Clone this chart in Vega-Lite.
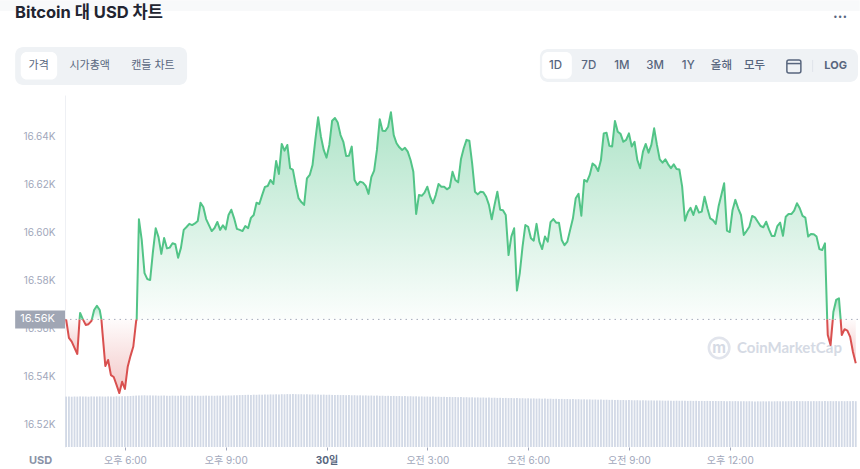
{
  "$schema": "https://vega.github.io/schema/vega-lite/v6.json",
  "description": "Bitcoin to USD price chart, one day, with volume bars.",
  "width": 793,
  "height": 352,
  "autosize": "none",
  "padding": {"left": 65, "top": 95, "right": 2, "bottom": 22},
  "background": "white",
  "title": {
    "text": "Bitcoin 대 USD 차트",
    "anchor": "start",
    "frame": "group",
    "dx": -50,
    "offset": 0,
    "dy": 21,
    "font": "Inter, 'Noto Sans CJK KR'",
    "fontSize": 16.5,
    "fontWeight": 700,
    "color": "#222531"
  },
  "config": {"view": {"stroke": null}},
  "datasets": {
    "price": [
      {"time":"2022-11-29T16:15Z","price":16564,"vol":50.4,"seg":1,"side":"down"},
      {"time":"2022-11-29T16:20Z","price":16556.3,"vol":50.5,"seg":1,"side":"down"},
      {"time":"2022-11-29T16:25Z","price":16554.7,"vol":50.3,"seg":1,"side":"down"},
      {"time":"2022-11-29T16:30Z","price":16552.1,"vol":50.5,"seg":1,"side":"down"},
      {"time":"2022-11-29T16:35Z","price":16549.6,"vol":50.4,"seg":1,"side":"down"},
      {"time":"2022-11-29T16:39Z","price":16564,"seg":1,"side":"down"},
      {"time":"2022-11-29T16:39Z","price":16564,"seg":2,"side":"up"},
      {"time":"2022-11-29T16:40Z","price":16566.7,"vol":50.6,"seg":2,"side":"up"},
      {"time":"2022-11-29T16:45Z","price":16564,"vol":50.4,"seg":2,"side":"up"},
      {"time":"2022-11-29T16:45Z","price":16564,"seg":3,"side":"down"},
      {"time":"2022-11-29T16:50Z","price":16561.7,"vol":50.5,"seg":3,"side":"down"},
      {"time":"2022-11-29T16:55Z","price":16562,"vol":50.3,"seg":3,"side":"down"},
      {"time":"2022-11-29T17:00Z","price":16563.3,"vol":50.6,"seg":3,"side":"down"},
      {"time":"2022-11-29T17:01Z","price":16564,"seg":3,"side":"down"},
      {"time":"2022-11-29T17:01Z","price":16564,"seg":4,"side":"up"},
      {"time":"2022-11-29T17:05Z","price":16567.9,"vol":50.5,"seg":4,"side":"up"},
      {"time":"2022-11-29T17:10Z","price":16569.7,"vol":50.4,"seg":4,"side":"up"},
      {"time":"2022-11-29T17:15Z","price":16567.9,"vol":50.6,"seg":4,"side":"up"},
      {"time":"2022-11-29T17:18Z","price":16564,"seg":4,"side":"up"},
      {"time":"2022-11-29T17:18Z","price":16564,"seg":5,"side":"down"},
      {"time":"2022-11-29T17:20Z","price":16558.3,"vol":50.5,"seg":5,"side":"down"},
      {"time":"2022-11-29T17:25Z","price":16544.6,"vol":50.4,"seg":5,"side":"down"},
      {"time":"2022-11-29T17:30Z","price":16547.1,"vol":50.6,"seg":5,"side":"down"},
      {"time":"2022-11-29T17:35Z","price":16540.8,"vol":50.5,"seg":5,"side":"down"},
      {"time":"2022-11-29T17:40Z","price":16540,"vol":50.4,"seg":5,"side":"down"},
      {"time":"2022-11-29T17:45Z","price":16536.7,"vol":50.7,"seg":5,"side":"down"},
      {"time":"2022-11-29T17:50Z","price":16533.3,"vol":50.6,"seg":5,"side":"down"},
      {"time":"2022-11-29T17:55Z","price":16538,"vol":50.8,"seg":5,"side":"down"},
      {"time":"2022-11-29T18:00Z","price":16535,"vol":50.7,"seg":5,"side":"down"},
      {"time":"2022-11-29T18:05Z","price":16544.3,"vol":50.9,"seg":5,"side":"down"},
      {"time":"2022-11-29T18:10Z","price":16548.8,"vol":51,"seg":5,"side":"down"},
      {"time":"2022-11-29T18:15Z","price":16552.7,"vol":51.2,"seg":5,"side":"down"},
      {"time":"2022-11-29T18:20Z","price":16563.3,"vol":51.4,"seg":5,"side":"down"},
      {"time":"2022-11-29T18:21Z","price":16564,"seg":5,"side":"down"},
      {"time":"2022-11-29T18:21Z","price":16564,"seg":6,"side":"up"},
      {"time":"2022-11-29T18:25Z","price":16605.7,"vol":51.5,"seg":6,"side":"up"},
      {"time":"2022-11-29T18:30Z","price":16597.1,"vol":51.6,"seg":6,"side":"up"},
      {"time":"2022-11-29T18:35Z","price":16583.3,"vol":51.7,"seg":6,"side":"up"},
      {"time":"2022-11-29T18:40Z","price":16580.8,"vol":51.5,"seg":6,"side":"up"},
      {"time":"2022-11-29T18:45Z","price":16580.4,"vol":51.6,"seg":6,"side":"up"},
      {"time":"2022-11-29T18:50Z","price":16592.1,"vol":51.4,"seg":6,"side":"up"},
      {"time":"2022-11-29T18:55Z","price":16602,"vol":51.5,"seg":6,"side":"up"},
      {"time":"2022-11-29T19:00Z","price":16598.3,"vol":51.3,"seg":6,"side":"up"},
      {"time":"2022-11-29T19:05Z","price":16591.3,"vol":51.4,"seg":6,"side":"up"},
      {"time":"2022-11-29T19:10Z","price":16597.9,"vol":51.5,"seg":6,"side":"up"},
      {"time":"2022-11-29T19:15Z","price":16593.6,"vol":51.3,"seg":6,"side":"up"},
      {"time":"2022-11-29T19:20Z","price":16593.9,"vol":51.2,"seg":6,"side":"up"},
      {"time":"2022-11-29T19:25Z","price":16595.7,"vol":51.4,"seg":6,"side":"up"},
      {"time":"2022-11-29T19:30Z","price":16595.3,"vol":51.3,"seg":6,"side":"up"},
      {"time":"2022-11-29T19:35Z","price":16589.7,"vol":51.2,"seg":6,"side":"up"},
      {"time":"2022-11-29T19:40Z","price":16593.8,"vol":51.4,"seg":6,"side":"up"},
      {"time":"2022-11-29T19:45Z","price":16601.3,"vol":51.3,"seg":6,"side":"up"},
      {"time":"2022-11-29T19:50Z","price":16602.5,"vol":51.2,"seg":6,"side":"up"},
      {"time":"2022-11-29T19:55Z","price":16603.8,"vol":51.3,"seg":6,"side":"up"},
      {"time":"2022-11-29T20:00Z","price":16603.3,"vol":51.4,"seg":6,"side":"up"},
      {"time":"2022-11-29T20:05Z","price":16604,"vol":51.2,"seg":6,"side":"up"},
      {"time":"2022-11-29T20:10Z","price":16605,"vol":51.3,"seg":6,"side":"up"},
      {"time":"2022-11-29T20:15Z","price":16612.6,"vol":51.2,"seg":6,"side":"up"},
      {"time":"2022-11-29T20:20Z","price":16610.8,"vol":51.3,"seg":6,"side":"up"},
      {"time":"2022-11-29T20:25Z","price":16605.8,"vol":51.4,"seg":6,"side":"up"},
      {"time":"2022-11-29T20:30Z","price":16603.3,"vol":51.2,"seg":6,"side":"up"},
      {"time":"2022-11-29T20:35Z","price":16600.8,"vol":51.3,"seg":6,"side":"up"},
      {"time":"2022-11-29T20:40Z","price":16602.1,"vol":51.2,"seg":6,"side":"up"},
      {"time":"2022-11-29T20:45Z","price":16604.6,"vol":51.4,"seg":6,"side":"up"},
      {"time":"2022-11-29T20:50Z","price":16601.3,"vol":51.3,"seg":6,"side":"up"},
      {"time":"2022-11-29T20:55Z","price":16603.2,"vol":51.5,"seg":6,"side":"up"},
      {"time":"2022-11-29T21:00Z","price":16601.5,"vol":51.4,"seg":6,"side":"up"},
      {"time":"2022-11-29T21:05Z","price":16607.5,"vol":51.6,"seg":6,"side":"up"},
      {"time":"2022-11-29T21:10Z","price":16609.7,"vol":51.5,"seg":6,"side":"up"},
      {"time":"2022-11-29T21:15Z","price":16606.1,"vol":51.7,"seg":6,"side":"up"},
      {"time":"2022-11-29T21:20Z","price":16601.7,"vol":51.8,"seg":6,"side":"up"},
      {"time":"2022-11-29T21:25Z","price":16601.3,"vol":51.9,"seg":6,"side":"up"},
      {"time":"2022-11-29T21:30Z","price":16600.8,"vol":52,"seg":6,"side":"up"},
      {"time":"2022-11-29T21:35Z","price":16602.9,"vol":52.1,"seg":6,"side":"up"},
      {"time":"2022-11-29T21:40Z","price":16602,"vol":52.2,"seg":6,"side":"up"},
      {"time":"2022-11-29T21:45Z","price":16606.3,"vol":52.1,"seg":6,"side":"up"},
      {"time":"2022-11-29T21:50Z","price":16607.5,"vol":52.3,"seg":6,"side":"up"},
      {"time":"2022-11-29T21:55Z","price":16612.6,"vol":52.2,"seg":6,"side":"up"},
      {"time":"2022-11-29T22:00Z","price":16612.1,"vol":52.4,"seg":6,"side":"up"},
      {"time":"2022-11-29T22:05Z","price":16615.8,"vol":52.3,"seg":6,"side":"up"},
      {"time":"2022-11-29T22:10Z","price":16619.2,"vol":52.5,"seg":6,"side":"up"},
      {"time":"2022-11-29T22:15Z","price":16619.6,"vol":52.4,"seg":6,"side":"up"},
      {"time":"2022-11-29T22:20Z","price":16622.1,"vol":52.6,"seg":6,"side":"up"},
      {"time":"2022-11-29T22:25Z","price":16620.4,"vol":52.5,"seg":6,"side":"up"},
      {"time":"2022-11-29T22:30Z","price":16630,"vol":52.7,"seg":6,"side":"up"},
      {"time":"2022-11-29T22:35Z","price":16624.6,"vol":52.6,"seg":6,"side":"up"},
      {"time":"2022-11-29T22:40Z","price":16637.1,"vol":52.8,"seg":6,"side":"up"},
      {"time":"2022-11-29T22:45Z","price":16634.3,"vol":52.7,"seg":6,"side":"up"},
      {"time":"2022-11-29T22:50Z","price":16636.7,"vol":52.9,"seg":6,"side":"up"},
      {"time":"2022-11-29T22:55Z","price":16627,"vol":52.8,"seg":6,"side":"up"},
      {"time":"2022-11-29T23:00Z","price":16626.3,"vol":52.9,"seg":6,"side":"up"},
      {"time":"2022-11-29T23:05Z","price":16620,"vol":52.8,"seg":6,"side":"up"},
      {"time":"2022-11-29T23:10Z","price":16614.5,"vol":52.7,"seg":6,"side":"up"},
      {"time":"2022-11-29T23:15Z","price":16612.9,"vol":52.8,"seg":6,"side":"up"},
      {"time":"2022-11-29T23:20Z","price":16611.7,"vol":52.6,"seg":6,"side":"up"},
      {"time":"2022-11-29T23:25Z","price":16622.8,"vol":52.7,"seg":6,"side":"up"},
      {"time":"2022-11-29T23:30Z","price":16624.2,"vol":52.5,"seg":6,"side":"up"},
      {"time":"2022-11-29T23:35Z","price":16628.3,"vol":52.6,"seg":6,"side":"up"},
      {"time":"2022-11-29T23:40Z","price":16638.8,"vol":52.4,"seg":6,"side":"up"},
      {"time":"2022-11-29T23:45Z","price":16648.2,"vol":52.5,"seg":6,"side":"up"},
      {"time":"2022-11-29T23:50Z","price":16640.1,"vol":52.3,"seg":6,"side":"up"},
      {"time":"2022-11-29T23:55Z","price":16634.6,"vol":52.4,"seg":6,"side":"up"},
      {"time":"2022-11-30T00:00Z","price":16631.4,"vol":52.2,"seg":6,"side":"up"},
      {"time":"2022-11-30T00:05Z","price":16636.7,"vol":52.3,"seg":6,"side":"up"},
      {"time":"2022-11-30T00:10Z","price":16646.8,"vol":52.1,"seg":6,"side":"up"},
      {"time":"2022-11-30T00:15Z","price":16647.9,"vol":52,"seg":6,"side":"up"},
      {"time":"2022-11-30T00:20Z","price":16646,"vol":52.1,"seg":6,"side":"up"},
      {"time":"2022-11-30T00:25Z","price":16640.8,"vol":51.9,"seg":6,"side":"up"},
      {"time":"2022-11-30T00:30Z","price":16638,"vol":52,"seg":6,"side":"up"},
      {"time":"2022-11-30T00:35Z","price":16632.1,"vol":51.8,"seg":6,"side":"up"},
      {"time":"2022-11-30T00:40Z","price":16632.2,"vol":51.9,"seg":6,"side":"up"},
      {"time":"2022-11-30T00:45Z","price":16636,"vol":51.7,"seg":6,"side":"up"},
      {"time":"2022-11-30T00:50Z","price":16622.1,"vol":51.8,"seg":6,"side":"up"},
      {"time":"2022-11-30T00:55Z","price":16620,"vol":51.6,"seg":6,"side":"up"},
      {"time":"2022-11-30T01:00Z","price":16621.4,"vol":51.7,"seg":6,"side":"up"},
      {"time":"2022-11-30T01:05Z","price":16621,"vol":51.5,"seg":6,"side":"up"},
      {"time":"2022-11-30T01:10Z","price":16619.6,"vol":51.6,"seg":6,"side":"up"},
      {"time":"2022-11-30T01:15Z","price":16616.3,"vol":51.4,"seg":6,"side":"up"},
      {"time":"2022-11-30T01:20Z","price":16623.3,"vol":51.5,"seg":6,"side":"up"},
      {"time":"2022-11-30T01:25Z","price":16626,"vol":51.3,"seg":6,"side":"up"},
      {"time":"2022-11-30T01:30Z","price":16634.6,"vol":51.4,"seg":6,"side":"up"},
      {"time":"2022-11-30T01:35Z","price":16647.4,"vol":51.2,"seg":6,"side":"up"},
      {"time":"2022-11-30T01:40Z","price":16642.6,"vol":51.3,"seg":6,"side":"up"},
      {"time":"2022-11-30T01:45Z","price":16642.5,"vol":51.1,"seg":6,"side":"up"},
      {"time":"2022-11-30T01:50Z","price":16644.3,"vol":51.2,"seg":6,"side":"up"},
      {"time":"2022-11-30T01:55Z","price":16650.3,"vol":51,"seg":6,"side":"up"},
      {"time":"2022-11-30T02:00Z","price":16640.8,"vol":51.1,"seg":6,"side":"up"},
      {"time":"2022-11-30T02:05Z","price":16637.4,"vol":50.9,"seg":6,"side":"up"},
      {"time":"2022-11-30T02:10Z","price":16635.7,"vol":51,"seg":6,"side":"up"},
      {"time":"2022-11-30T02:15Z","price":16634.6,"vol":50.8,"seg":6,"side":"up"},
      {"time":"2022-11-30T02:20Z","price":16635.5,"vol":50.9,"seg":6,"side":"up"},
      {"time":"2022-11-30T02:25Z","price":16633.9,"vol":50.7,"seg":6,"side":"up"},
      {"time":"2022-11-30T02:30Z","price":16630.4,"vol":50.8,"seg":6,"side":"up"},
      {"time":"2022-11-30T02:35Z","price":16625.5,"vol":50.6,"seg":6,"side":"up"},
      {"time":"2022-11-30T02:40Z","price":16607.9,"vol":50.7,"seg":6,"side":"up"},
      {"time":"2022-11-30T02:45Z","price":16615.8,"vol":50.5,"seg":6,"side":"up"},
      {"time":"2022-11-30T02:50Z","price":16615.5,"vol":50.6,"seg":6,"side":"up"},
      {"time":"2022-11-30T02:55Z","price":16616.8,"vol":50.4,"seg":6,"side":"up"},
      {"time":"2022-11-30T03:00Z","price":16619.3,"vol":50.5,"seg":6,"side":"up"},
      {"time":"2022-11-30T03:05Z","price":16615.1,"vol":50.3,"seg":6,"side":"up"},
      {"time":"2022-11-30T03:10Z","price":16612.4,"vol":50.4,"seg":6,"side":"up"},
      {"time":"2022-11-30T03:15Z","price":16615.8,"vol":50.2,"seg":6,"side":"up"},
      {"time":"2022-11-30T03:20Z","price":16620.4,"vol":50.3,"seg":6,"side":"up"},
      {"time":"2022-11-30T03:25Z","price":16619.3,"vol":50.1,"seg":6,"side":"up"},
      {"time":"2022-11-30T03:30Z","price":16619.3,"vol":50.2,"seg":6,"side":"up"},
      {"time":"2022-11-30T03:35Z","price":16618.2,"vol":50,"seg":6,"side":"up"},
      {"time":"2022-11-30T03:40Z","price":16619,"vol":50.1,"seg":6,"side":"up"},
      {"time":"2022-11-30T03:45Z","price":16625.5,"vol":49.9,"seg":6,"side":"up"},
      {"time":"2022-11-30T03:50Z","price":16622.1,"vol":50,"seg":6,"side":"up"},
      {"time":"2022-11-30T03:55Z","price":16621.1,"vol":49.8,"seg":6,"side":"up"},
      {"time":"2022-11-30T04:00Z","price":16630.7,"vol":49.9,"seg":6,"side":"up"},
      {"time":"2022-11-30T04:05Z","price":16635.3,"vol":49.7,"seg":6,"side":"up"},
      {"time":"2022-11-30T04:10Z","price":16638.8,"vol":49.8,"seg":6,"side":"up"},
      {"time":"2022-11-30T04:15Z","price":16638.5,"vol":49.6,"seg":6,"side":"up"},
      {"time":"2022-11-30T04:20Z","price":16629,"vol":49.7,"seg":6,"side":"up"},
      {"time":"2022-11-30T04:25Z","price":16617.2,"vol":49.5,"seg":6,"side":"up"},
      {"time":"2022-11-30T04:30Z","price":16616.1,"vol":49.6,"seg":6,"side":"up"},
      {"time":"2022-11-30T04:35Z","price":16617.2,"vol":49.4,"seg":6,"side":"up"},
      {"time":"2022-11-30T04:40Z","price":16617,"vol":49.5,"seg":6,"side":"up"},
      {"time":"2022-11-30T04:45Z","price":16615.1,"vol":49.3,"seg":6,"side":"up"},
      {"time":"2022-11-30T04:50Z","price":16611.7,"vol":49.4,"seg":6,"side":"up"},
      {"time":"2022-11-30T04:55Z","price":16605.7,"vol":49.2,"seg":6,"side":"up"},
      {"time":"2022-11-30T05:00Z","price":16611.7,"vol":49.3,"seg":6,"side":"up"},
      {"time":"2022-11-30T05:05Z","price":16617.2,"vol":49.1,"seg":6,"side":"up"},
      {"time":"2022-11-30T05:10Z","price":16609.7,"vol":49.2,"seg":6,"side":"up"},
      {"time":"2022-11-30T05:15Z","price":16609.5,"vol":49,"seg":6,"side":"up"},
      {"time":"2022-11-30T05:20Z","price":16607.5,"vol":49.1,"seg":6,"side":"up"},
      {"time":"2022-11-30T05:25Z","price":16590.8,"vol":48.9,"seg":6,"side":"up"},
      {"time":"2022-11-30T05:30Z","price":16598.5,"vol":49,"seg":6,"side":"up"},
      {"time":"2022-11-30T05:35Z","price":16602,"vol":48.8,"seg":6,"side":"up"},
      {"time":"2022-11-30T05:40Z","price":16576,"vol":48.9,"seg":6,"side":"up"},
      {"time":"2022-11-30T05:45Z","price":16583.2,"vol":48.7,"seg":6,"side":"up"},
      {"time":"2022-11-30T05:50Z","price":16594.3,"vol":48.8,"seg":6,"side":"up"},
      {"time":"2022-11-30T05:55Z","price":16603.3,"vol":48.6,"seg":6,"side":"up"},
      {"time":"2022-11-30T06:00Z","price":16602.6,"vol":48.7,"seg":6,"side":"up"},
      {"time":"2022-11-30T06:05Z","price":16597.8,"vol":48.5,"seg":6,"side":"up"},
      {"time":"2022-11-30T06:10Z","price":16596.8,"vol":48.6,"seg":6,"side":"up"},
      {"time":"2022-11-30T06:15Z","price":16603.8,"vol":48.4,"seg":6,"side":"up"},
      {"time":"2022-11-30T06:20Z","price":16596.4,"vol":48.5,"seg":6,"side":"up"},
      {"time":"2022-11-30T06:25Z","price":16593.3,"vol":48.3,"seg":6,"side":"up"},
      {"time":"2022-11-30T06:30Z","price":16598.5,"vol":48.4,"seg":6,"side":"up"},
      {"time":"2022-11-30T06:35Z","price":16596.4,"vol":48.2,"seg":6,"side":"up"},
      {"time":"2022-11-30T06:40Z","price":16604.5,"vol":48.3,"seg":6,"side":"up"},
      {"time":"2022-11-30T06:45Z","price":16605.8,"vol":48.1,"seg":6,"side":"up"},
      {"time":"2022-11-30T06:50Z","price":16604.3,"vol":48.2,"seg":6,"side":"up"},
      {"time":"2022-11-30T06:55Z","price":16604.3,"vol":48,"seg":6,"side":"up"},
      {"time":"2022-11-30T07:00Z","price":16597.1,"vol":48.1,"seg":6,"side":"up"},
      {"time":"2022-11-30T07:05Z","price":16594.9,"vol":47.9,"seg":6,"side":"up"},
      {"time":"2022-11-30T07:10Z","price":16596.4,"vol":48,"seg":6,"side":"up"},
      {"time":"2022-11-30T07:15Z","price":16601.3,"vol":47.8,"seg":6,"side":"up"},
      {"time":"2022-11-30T07:20Z","price":16606.1,"vol":47.9,"seg":6,"side":"up"},
      {"time":"2022-11-30T07:25Z","price":16614.5,"vol":47.7,"seg":6,"side":"up"},
      {"time":"2022-11-30T07:30Z","price":16616.3,"vol":47.8,"seg":6,"side":"up"},
      {"time":"2022-11-30T07:35Z","price":16607.2,"vol":47.6,"seg":6,"side":"up"},
      {"time":"2022-11-30T07:40Z","price":16622.1,"vol":47.7,"seg":6,"side":"up"},
      {"time":"2022-11-30T07:45Z","price":16621.4,"vol":47.5,"seg":6,"side":"up"},
      {"time":"2022-11-30T07:50Z","price":16624.2,"vol":47.6,"seg":6,"side":"up"},
      {"time":"2022-11-30T07:55Z","price":16629,"vol":47.4,"seg":6,"side":"up"},
      {"time":"2022-11-30T08:00Z","price":16628,"vol":47.5,"seg":6,"side":"up"},
      {"time":"2022-11-30T08:05Z","price":16625.8,"vol":47.3,"seg":6,"side":"up"},
      {"time":"2022-11-30T08:10Z","price":16630.4,"vol":47.4,"seg":6,"side":"up"},
      {"time":"2022-11-30T08:15Z","price":16641.5,"vol":47.2,"seg":6,"side":"up"},
      {"time":"2022-11-30T08:20Z","price":16641.8,"vol":47.3,"seg":6,"side":"up"},
      {"time":"2022-11-30T08:25Z","price":16636.3,"vol":47.1,"seg":6,"side":"up"},
      {"time":"2022-11-30T08:30Z","price":16636,"vol":47.2,"seg":6,"side":"up"},
      {"time":"2022-11-30T08:35Z","price":16646.7,"vol":47,"seg":6,"side":"up"},
      {"time":"2022-11-30T08:40Z","price":16642.2,"vol":47.1,"seg":6,"side":"up"},
      {"time":"2022-11-30T08:45Z","price":16641.3,"vol":46.9,"seg":6,"side":"up"},
      {"time":"2022-11-30T08:50Z","price":16638,"vol":47,"seg":6,"side":"up"},
      {"time":"2022-11-30T08:55Z","price":16638.8,"vol":46.8,"seg":6,"side":"up"},
      {"time":"2022-11-30T09:00Z","price":16641.5,"vol":46.9,"seg":6,"side":"up"},
      {"time":"2022-11-30T09:05Z","price":16636,"vol":46.8,"seg":6,"side":"up"},
      {"time":"2022-11-30T09:10Z","price":16638,"vol":46.7,"seg":6,"side":"up"},
      {"time":"2022-11-30T09:15Z","price":16630.4,"vol":46.8,"seg":6,"side":"up"},
      {"time":"2022-11-30T09:20Z","price":16627,"vol":46.6,"seg":6,"side":"up"},
      {"time":"2022-11-30T09:25Z","price":16633.9,"vol":46.7,"seg":6,"side":"up"},
      {"time":"2022-11-30T09:30Z","price":16637.1,"vol":46.6,"seg":6,"side":"up"},
      {"time":"2022-11-30T09:35Z","price":16633.5,"vol":46.5,"seg":6,"side":"up"},
      {"time":"2022-11-30T09:40Z","price":16636.7,"vol":46.6,"seg":6,"side":"up"},
      {"time":"2022-11-30T09:45Z","price":16643.6,"vol":46.5,"seg":6,"side":"up"},
      {"time":"2022-11-30T09:50Z","price":16636.7,"vol":46.4,"seg":6,"side":"up"},
      {"time":"2022-11-30T09:55Z","price":16630.7,"vol":46.5,"seg":6,"side":"up"},
      {"time":"2022-11-30T10:00Z","price":16629.3,"vol":46.4,"seg":6,"side":"up"},
      {"time":"2022-11-30T10:05Z","price":16630.7,"vol":46.3,"seg":6,"side":"up"},
      {"time":"2022-11-30T10:10Z","price":16628.6,"vol":46.4,"seg":6,"side":"up"},
      {"time":"2022-11-30T10:15Z","price":16627,"vol":46.3,"seg":6,"side":"up"},
      {"time":"2022-11-30T10:20Z","price":16628.6,"vol":46.2,"seg":6,"side":"up"},
      {"time":"2022-11-30T10:25Z","price":16626.7,"vol":46.3,"seg":6,"side":"up"},
      {"time":"2022-11-30T10:30Z","price":16626.5,"vol":46.2,"seg":6,"side":"up"},
      {"time":"2022-11-30T10:35Z","price":16619.3,"vol":46.3,"seg":6,"side":"up"},
      {"time":"2022-11-30T10:40Z","price":16605.1,"vol":46.2,"seg":6,"side":"up"},
      {"time":"2022-11-30T10:45Z","price":16608.6,"vol":46.1,"seg":6,"side":"up"},
      {"time":"2022-11-30T10:50Z","price":16610.5,"vol":46.2,"seg":6,"side":"up"},
      {"time":"2022-11-30T10:55Z","price":16607.5,"vol":46.1,"seg":6,"side":"up"},
      {"time":"2022-11-30T11:00Z","price":16611.3,"vol":46.2,"seg":6,"side":"up"},
      {"time":"2022-11-30T11:05Z","price":16608.5,"vol":46,"seg":6,"side":"up"},
      {"time":"2022-11-30T11:10Z","price":16608.9,"vol":46.1,"seg":6,"side":"up"},
      {"time":"2022-11-30T11:15Z","price":16615.1,"vol":46,"seg":6,"side":"up"},
      {"time":"2022-11-30T11:20Z","price":16610.3,"vol":46.1,"seg":6,"side":"up"},
      {"time":"2022-11-30T11:25Z","price":16606.1,"vol":46,"seg":6,"side":"up"},
      {"time":"2022-11-30T11:30Z","price":16605.4,"vol":45.9,"seg":6,"side":"up"},
      {"time":"2022-11-30T11:35Z","price":16603.8,"vol":46,"seg":6,"side":"up"},
      {"time":"2022-11-30T11:40Z","price":16611,"vol":45.9,"seg":6,"side":"up"},
      {"time":"2022-11-30T11:45Z","price":16615.8,"vol":46,"seg":6,"side":"up"},
      {"time":"2022-11-30T11:50Z","price":16620.7,"vol":45.9,"seg":6,"side":"up"},
      {"time":"2022-11-30T11:55Z","price":16601,"vol":45.8,"seg":6,"side":"up"},
      {"time":"2022-11-30T12:00Z","price":16600.4,"vol":45.9,"seg":6,"side":"up"},
      {"time":"2022-11-30T12:05Z","price":16609.6,"vol":45.8,"seg":6,"side":"up"},
      {"time":"2022-11-30T12:10Z","price":16613.8,"vol":45.9,"seg":6,"side":"up"},
      {"time":"2022-11-30T12:15Z","price":16610.3,"vol":45.8,"seg":6,"side":"up"},
      {"time":"2022-11-30T12:20Z","price":16607.5,"vol":45.7,"seg":6,"side":"up"},
      {"time":"2022-11-30T12:25Z","price":16599.2,"vol":45.8,"seg":6,"side":"up"},
      {"time":"2022-11-30T12:30Z","price":16600.8,"vol":45.7,"seg":6,"side":"up"},
      {"time":"2022-11-30T12:35Z","price":16602.6,"vol":45.8,"seg":6,"side":"up"},
      {"time":"2022-11-30T12:40Z","price":16607.1,"vol":45.7,"seg":6,"side":"up"},
      {"time":"2022-11-30T12:45Z","price":16606.5,"vol":45.6,"seg":6,"side":"up"},
      {"time":"2022-11-30T12:50Z","price":16604.7,"vol":45.7,"seg":6,"side":"up"},
      {"time":"2022-11-30T12:55Z","price":16602.9,"vol":45.6,"seg":6,"side":"up"},
      {"time":"2022-11-30T13:00Z","price":16602.4,"vol":45.7,"seg":6,"side":"up"},
      {"time":"2022-11-30T13:05Z","price":16604.7,"vol":45.6,"seg":6,"side":"up"},
      {"time":"2022-11-30T13:10Z","price":16601.5,"vol":45.7,"seg":6,"side":"up"},
      {"time":"2022-11-30T13:15Z","price":16598.8,"vol":45.6,"seg":6,"side":"up"},
      {"time":"2022-11-30T13:20Z","price":16598.8,"vol":45.7,"seg":6,"side":"up"},
      {"time":"2022-11-30T13:25Z","price":16602.9,"vol":45.8,"seg":6,"side":"up"},
      {"time":"2022-11-30T13:30Z","price":16604.3,"vol":45.7,"seg":6,"side":"up"},
      {"time":"2022-11-30T13:35Z","price":16598.8,"vol":45.8,"seg":6,"side":"up"},
      {"time":"2022-11-30T13:40Z","price":16606.8,"vol":45.7,"seg":6,"side":"up"},
      {"time":"2022-11-30T13:45Z","price":16607.9,"vol":45.8,"seg":6,"side":"up"},
      {"time":"2022-11-30T13:50Z","price":16607.9,"vol":45.9,"seg":6,"side":"up"},
      {"time":"2022-11-30T13:55Z","price":16609.3,"vol":45.8,"seg":6,"side":"up"},
      {"time":"2022-11-30T14:00Z","price":16612.4,"vol":45.9,"seg":6,"side":"up"},
      {"time":"2022-11-30T14:05Z","price":16610.3,"vol":45.8,"seg":6,"side":"up"},
      {"time":"2022-11-30T14:10Z","price":16607.1,"vol":45.9,"seg":6,"side":"up"},
      {"time":"2022-11-30T14:15Z","price":16606.4,"vol":45.8,"seg":6,"side":"up"},
      {"time":"2022-11-30T14:20Z","price":16598.5,"vol":45.9,"seg":6,"side":"up"},
      {"time":"2022-11-30T14:25Z","price":16599.6,"vol":45.8,"seg":6,"side":"up"},
      {"time":"2022-11-30T14:30Z","price":16599.5,"vol":45.9,"seg":6,"side":"up"},
      {"time":"2022-11-30T14:35Z","price":16598.5,"vol":45.8,"seg":6,"side":"up"},
      {"time":"2022-11-30T14:40Z","price":16593.3,"vol":45.9,"seg":6,"side":"up"},
      {"time":"2022-11-30T14:45Z","price":16592.9,"vol":45.8,"seg":6,"side":"up"},
      {"time":"2022-11-30T14:50Z","price":16595.7,"vol":45.9,"seg":6,"side":"up"},
      {"time":"2022-11-30T14:54Z","price":16564,"seg":6,"side":"up"},
      {"time":"2022-11-30T14:54Z","price":16564,"seg":7,"side":"down"},
      {"time":"2022-11-30T14:55Z","price":16557.5,"vol":45.8,"seg":7,"side":"down"},
      {"time":"2022-11-30T15:00Z","price":16553.3,"vol":45.9,"seg":7,"side":"down"},
      {"time":"2022-11-30T15:04Z","price":16564,"seg":7,"side":"down"},
      {"time":"2022-11-30T15:04Z","price":16564,"seg":8,"side":"up"},
      {"time":"2022-11-30T15:05Z","price":16567.1,"vol":45.8,"seg":8,"side":"up"},
      {"time":"2022-11-30T15:10Z","price":16572.1,"vol":45.9,"seg":8,"side":"up"},
      {"time":"2022-11-30T15:15Z","price":16572.8,"vol":45.8,"seg":8,"side":"up"},
      {"time":"2022-11-30T15:18Z","price":16564,"seg":8,"side":"up"},
      {"time":"2022-11-30T15:18Z","price":16564,"seg":9,"side":"down"},
      {"time":"2022-11-30T15:20Z","price":16557.5,"vol":45.9,"seg":9,"side":"down"},
      {"time":"2022-11-30T15:25Z","price":16559.9,"vol":45.8,"seg":9,"side":"down"},
      {"time":"2022-11-30T15:30Z","price":16559.3,"vol":45.9,"seg":9,"side":"down"},
      {"time":"2022-11-30T15:35Z","price":16556.7,"vol":45.8,"seg":9,"side":"down"},
      {"time":"2022-11-30T15:40Z","price":16550.4,"vol":45.9,"seg":9,"side":"down"},
      {"time":"2022-11-30T15:45Z","price":16545.7,"vol":45.8,"seg":9,"side":"down"}
    ],
    "reference": [{"label": "16.56K", "price": 16564}]
  },
  "resolve": {"scale": {"y": "independent"}},
  "layer": [
    {
      "data": {"name": "price"},
      "transform": [{"filter": "isValid(datum.vol)"}],
      "mark": {"type": "bar", "width": 1.8, "color": "#d2d9e6"},
      "encoding": {
        "x": {
          "field": "time",
          "type": "temporal",
          "scale": {
            "type": "utc",
            "padding": 0,
            "domain": [
              {"utc": true, "year": 2022, "month": 11, "date": 29, "hours": 16, "minutes": 13},
              {"utc": true, "year": 2022, "month": 11, "date": 30, "hours": 15, "minutes": 49}
            ]
          },
          "title": "USD",
          "axis": {
            "values": [
              {"utc": true, "year": 2022, "month": 11, "date": 29, "hours": 18},
              {"utc": true, "year": 2022, "month": 11, "date": 29, "hours": 21},
              {"utc": true, "year": 2022, "month": 11, "date": 30, "hours": 0},
              {"utc": true, "year": 2022, "month": 11, "date": 30, "hours": 3},
              {"utc": true, "year": 2022, "month": 11, "date": 30, "hours": 6},
              {"utc": true, "year": 2022, "month": 11, "date": 30, "hours": 9},
              {"utc": true, "year": 2022, "month": 11, "date": 30, "hours": 12}
            ],
            "labelExpr": "utchours(datum.value)==0 ? '30일' : (utchours(datum.value)<12 ? '오전 ' : '오후 ') + (utchours(datum.value)%12==0 ? 12 : utchours(datum.value)%12) + ':00'",
            "labelFont": "Inter, 'Noto Sans CJK KR'",
            "labelFontSize": 10,
            "labelColor": {"condition": {"test": "utchours(datum.value)==0", "value": "#58667e"}, "value": "#a1a7bb"},
            "labelFontWeight": {"condition": {"test": "utchours(datum.value)==0", "value": "bold"}, "value": "normal"},
            "labelPadding": 5,
            "tickSize": 3,
            "tickColor": "#a1a7bb",
            "domain": false,
            "grid": false,
            "titleFont": "Inter, 'Noto Sans CJK KR'",
            "titleFontSize": 11,
            "titleFontWeight": "bold",
            "titleColor": "#8a92a6",
            "titleAnchor": "start",
            "titleAlign": "center",
            "titleBaseline": "middle",
            "titleX": -25,
            "titleY": 13
          }
        },
        "y": {"field": "vol", "type": "quantitative", "scale": {"domain": [0, 352], "nice": false}, "axis": null}
      }
    },
    {
      "layer": [
        {
          "data": {"values": [{"band": "top"}]},
          "mark": {"type": "rect", "color": "#f8f9fa"},
          "encoding": {
            "x": {"datum": {"utc": true, "year": 2022, "month": 11, "date": 29, "hours": 14, "minutes": 17}, "type": "temporal"},
            "x2": {"datum": {"utc": true, "year": 2022, "month": 11, "date": 30, "hours": 15, "minutes": 52}},
            "y": {"datum": 16697, "type": "quantitative"},
            "y2": {"datum": 16692.5}
          }
        },
        {
          "data": {"name": "price"},
          "transform": [{"filter": "datum.side=='up'"}],
          "mark": {
            "type": "area",
            "color": {
              "gradient": "linear", "x1": 1, "y1": 0, "x2": 1, "y2": 1,
              "stops": [
                {"offset": 0, "color": "rgba(64,190,125,0.42)"},
                {"offset": 1, "color": "rgba(64,190,125,0.02)"}
              ]
            }
          },
          "encoding": {
            "x": {"field": "time", "type": "temporal"},
            "y": {
              "field": "price",
              "type": "quantitative",
              "scale": {"domain": [16510.83, 16657.5], "nice": false, "zero": false},
              "title": null,
              "axis": {
                "values": [16520, 16540, 16560, 16580, 16600, 16620, 16640],
                "labelExpr": "format(datum.value/1000,'.2f')+'K'",
                "labelFont": "Inter, 'Noto Sans CJK KR'",
                "labelFontSize": 10,
                "labelColor": "#a1a7bb",
                "labelPadding": 10,
                "ticks": false,
                "domainColor": "#eef0f4",
                "gridColor": "#f3f4f6"
              }
            },
            "y2": {"datum": 16564},
            "detail": {"field": "seg"}
          }
        },
        {
          "data": {"name": "price"},
          "transform": [{"filter": "datum.side=='down'"}],
          "mark": {
            "type": "area",
            "color": {
              "gradient": "linear", "x1": 1, "y1": 0, "x2": 1, "y2": 1,
              "stops": [
                {"offset": 0, "color": "rgba(217,80,79,0.02)"},
                {"offset": 1, "color": "rgba(217,80,79,0.32)"}
              ]
            }
          },
          "encoding": {
            "x": {"field": "time", "type": "temporal"},
            "y": {"field": "price", "type": "quantitative"},
            "y2": {"datum": 16564},
            "detail": {"field": "seg"}
          }
        },
        {
          "data": {"name": "reference"},
          "mark": {"type": "rule", "color": "#a6adbb", "strokeDash": [1.5, 4]},
          "encoding": {"y": {"field": "price", "type": "quantitative"}}
        },
        {
          "data": {"values": [{"logo": "CoinMarketCap"}]},
          "mark": {"type": "point", "shape": "circle", "filled": false, "stroke": "#d5dae4", "strokeWidth": 2.5, "size": 420},
          "encoding": {
            "x": {"datum": {"utc": true, "year": 2022, "month": 11, "date": 30, "hours": 11, "minutes": 41}, "type": "temporal"},
            "y": {"datum": 16552.1, "type": "quantitative"}
          }
        },
        {
          "data": {"values": [{"logo": "m"}]},
          "mark": {"type": "text", "baseline": "middle", "color": "#d5dae4", "font": "Inter", "fontSize": 15, "fontWeight": 700},
          "encoding": {
            "x": {"datum": {"utc": true, "year": 2022, "month": 11, "date": 30, "hours": 11, "minutes": 41}, "type": "temporal"},
            "y": {"datum": 16552.1, "type": "quantitative"},
            "text": {"field": "logo"}
          }
        },
        {
          "data": {"values": [{"logo": "CoinMarketCap"}]},
          "mark": {"type": "text", "align": "left", "baseline": "middle", "color": "#d5dae4", "font": "Lato", "fontSize": 15, "fontWeight": 700},
          "encoding": {
            "x": {"datum": {"utc": true, "year": 2022, "month": 11, "date": 30, "hours": 12, "minutes": 13}, "type": "temporal"},
            "y": {"datum": 16552.1, "type": "quantitative"},
            "text": {"field": "logo"}
          }
        },
        {
          "data": {"name": "price"},
          "mark": {"type": "line", "strokeWidth": 2, "strokeJoin": "round"},
          "encoding": {
            "x": {"field": "time", "type": "temporal"},
            "y": {"field": "price", "type": "quantitative"},
            "detail": {"field": "seg"},
            "color": {
              "field": "side",
              "type": "nominal",
              "scale": {"domain": ["up", "down"], "range": ["#52c487", "#d9504f"]},
              "legend": null
            }
          }
        },
        {
          "data": {"name": "reference"},
          "mark": {"type": "rule", "color": "#a0a6b4", "strokeWidth": 18},
          "encoding": {
            "x": {"datum": {"utc": true, "year": 2022, "month": 11, "date": 29, "hours": 14, "minutes": 44}, "type": "temporal"},
            "x2": {"datum": {"utc": true, "year": 2022, "month": 11, "date": 29, "hours": 16, "minutes": 13}},
            "y": {"field": "price", "type": "quantitative"}
          }
        },
        {
          "data": {"name": "reference"},
          "mark": {"type": "text", "align": "right", "baseline": "middle", "dx": -10, "color": "#ffffff", "font": "Inter", "fontSize": 11},
          "encoding": {
            "x": {"datum": {"utc": true, "year": 2022, "month": 11, "date": 29, "hours": 16, "minutes": 13}, "type": "temporal"},
            "y": {"field": "price", "type": "quantitative"},
            "text": {"field": "label"}
          }
        },
        {
          "data": {"values": [{"panel": "left"}]},
          "mark": {"type": "rect", "color": "#eff2f5", "cornerRadius": 8},
          "encoding": {
            "x": {"datum": {"utc": true, "year": 2022, "month": 11, "date": 29, "hours": 14, "minutes": 44}, "type": "temporal"},
            "x2": {"datum": {"utc": true, "year": 2022, "month": 11, "date": 29, "hours": 19, "minutes": 51}},
            "y": {"datum": 16677.5, "type": "quantitative"},
            "y2": {"datum": 16661.7}
          }
        },
        {
          "data": {"values": [{"panel": "right"}]},
          "mark": {"type": "rect", "color": "#eff2f5", "cornerRadius": 8},
          "encoding": {
            "x": {"datum": {"utc": true, "year": 2022, "month": 11, "date": 30, "hours": 6, "minutes": 21}, "type": "temporal"},
            "x2": {"datum": {"utc": true, "year": 2022, "month": 11, "date": 30, "hours": 15, "minutes": 49}},
            "y": {"datum": 16676.7, "type": "quantitative"},
            "y2": {"datum": 16662.9}
          }
        },
        {
          "data": {"values": [{"active": "가격"}]},
          "mark": {"type": "rect", "color": "#ffffff", "cornerRadius": 6},
          "encoding": {
            "x": {"datum": {"utc": true, "year": 2022, "month": 11, "date": 29, "hours": 14, "minutes": 54}, "type": "temporal"},
            "x2": {"datum": {"utc": true, "year": 2022, "month": 11, "date": 29, "hours": 15, "minutes": 59}},
            "y": {"datum": 16675.4, "type": "quantitative"},
            "y2": {"datum": 16664}
          }
        },
        {
          "data": {"values": [{"active": "1D"}]},
          "mark": {"type": "rect", "color": "#ffffff", "cornerRadius": 6},
          "encoding": {
            "x": {"datum": {"utc": true, "year": 2022, "month": 11, "date": 30, "hours": 6, "minutes": 25}, "type": "temporal"},
            "x2": {"datum": {"utc": true, "year": 2022, "month": 11, "date": 30, "hours": 7, "minutes": 18}},
            "y": {"datum": 16675.4, "type": "quantitative"},
            "y2": {"datum": 16664.3}
          }
        },
        {
          "data": {"values": [{"tab": "가격"}]},
          "mark": {"type": "text", "baseline": "middle", "color": "#58667e", "font": "Inter, 'Noto Sans CJK KR'", "fontSize": 11},
          "encoding": {
            "x": {"datum": {"utc": true, "year": 2022, "month": 11, "date": 29, "hours": 15, "minutes": 26}, "type": "temporal"},
            "y": {"datum": 16669.5, "type": "quantitative"},
            "text": {"field": "tab"}
          }
        },
        {
          "data": {"values": [{"tab": "시가총액"}]},
          "mark": {"type": "text", "baseline": "middle", "color": "#58667e", "font": "Inter, 'Noto Sans CJK KR'", "fontSize": 11},
          "encoding": {
            "x": {"datum": {"utc": true, "year": 2022, "month": 11, "date": 29, "hours": 16, "minutes": 57}, "type": "temporal"},
            "y": {"datum": 16669.5, "type": "quantitative"},
            "text": {"field": "tab"}
          }
        },
        {
          "data": {"values": [{"tab": "캔들 차트"}]},
          "mark": {"type": "text", "baseline": "middle", "color": "#58667e", "font": "Inter, 'Noto Sans CJK KR'", "fontSize": 11},
          "encoding": {
            "x": {"datum": {"utc": true, "year": 2022, "month": 11, "date": 29, "hours": 18, "minutes": 50}, "type": "temporal"},
            "y": {"datum": 16669.5, "type": "quantitative"},
            "text": {"field": "tab"}
          }
        },
        {
          "data": {"values": [{"tab": "1D"}, {"tab": "7D"}, {"tab": "1M"}, {"tab": "3M"}, {"tab": "1Y"}, {"tab": "올해"}, {"tab": "모두"}]},
          "mark": {"type": "text", "baseline": "middle", "color": "#58667e", "font": "Inter, 'Noto Sans CJK KR'", "fontSize": 11.5, "fontWeight": 500},
          "encoding": {
            "x": {"datum": {"utc": true, "year": 2022, "month": 11, "date": 30, "hours": 6, "minutes": 49}, "type": "temporal"},
            "xOffset": {
              "field": "tab",
              "type": "nominal",
              "scale": {"type": "point", "padding": 0, "domain": ["1D", "7D", "1M", "3M", "1Y", "올해", "모두"], "range": [0, 199]}
            },
            "y": {"datum": 16669.4, "type": "quantitative"},
            "text": {"field": "tab"}
          }
        },
        {
          "data": {"values": [{"tab": "LOG"}]},
          "mark": {"type": "text", "baseline": "middle", "color": "#58667e", "font": "Inter", "fontSize": 11, "fontWeight": 700},
          "encoding": {
            "x": {"datum": {"utc": true, "year": 2022, "month": 11, "date": 30, "hours": 15, "minutes": 9}, "type": "temporal"},
            "y": {"datum": 16669.4, "type": "quantitative"},
            "text": {"field": "tab"}
          }
        },
        {
          "data": {"values": [{"icon": "calendar"}]},
          "mark": {"type": "rect", "fill": null, "stroke": "#58667e", "strokeWidth": 1.5, "cornerRadius": 2},
          "encoding": {
            "x": {"datum": {"utc": true, "year": 2022, "month": 11, "date": 30, "hours": 13, "minutes": 42}, "type": "temporal"},
            "x2": {"datum": {"utc": true, "year": 2022, "month": 11, "date": 30, "hours": 14, "minutes": 7}},
            "y": {"datum": 16672.1, "type": "quantitative"},
            "y2": {"datum": 16666.7}
          }
        },
        {
          "data": {"values": [{"icon": "calendar"}]},
          "mark": {"type": "rule", "stroke": "#58667e", "strokeWidth": 1.5},
          "encoding": {
            "x": {"datum": {"utc": true, "year": 2022, "month": 11, "date": 30, "hours": 13, "minutes": 42}, "type": "temporal"},
            "x2": {"datum": {"utc": true, "year": 2022, "month": 11, "date": 30, "hours": 14, "minutes": 7}},
            "y": {"datum": 16670.6, "type": "quantitative"}
          }
        },
        {
          "data": {"values": [{"icon": "divider"}]},
          "mark": {"type": "rule", "stroke": "#dfe3ea"},
          "encoding": {
            "x": {"datum": {"utc": true, "year": 2022, "month": 11, "date": 30, "hours": 14, "minutes": 28}, "type": "temporal"},
            "y": {"datum": 16672.1, "type": "quantitative"},
            "y2": {"datum": 16667.1}
          }
        },
        {
          "data": {"values": [{"menu": "•••"}]},
          "mark": {"type": "text", "baseline": "middle", "color": "#58667e", "font": "DejaVu Sans", "fontSize": 8},
          "encoding": {
            "x": {"datum": {"utc": true, "year": 2022, "month": 11, "date": 30, "hours": 15, "minutes": 17}, "type": "temporal"},
            "y": {"datum": 16689.6, "type": "quantitative"},
            "text": {"field": "menu"}
          }
        }
      ]
    }
  ]
}
